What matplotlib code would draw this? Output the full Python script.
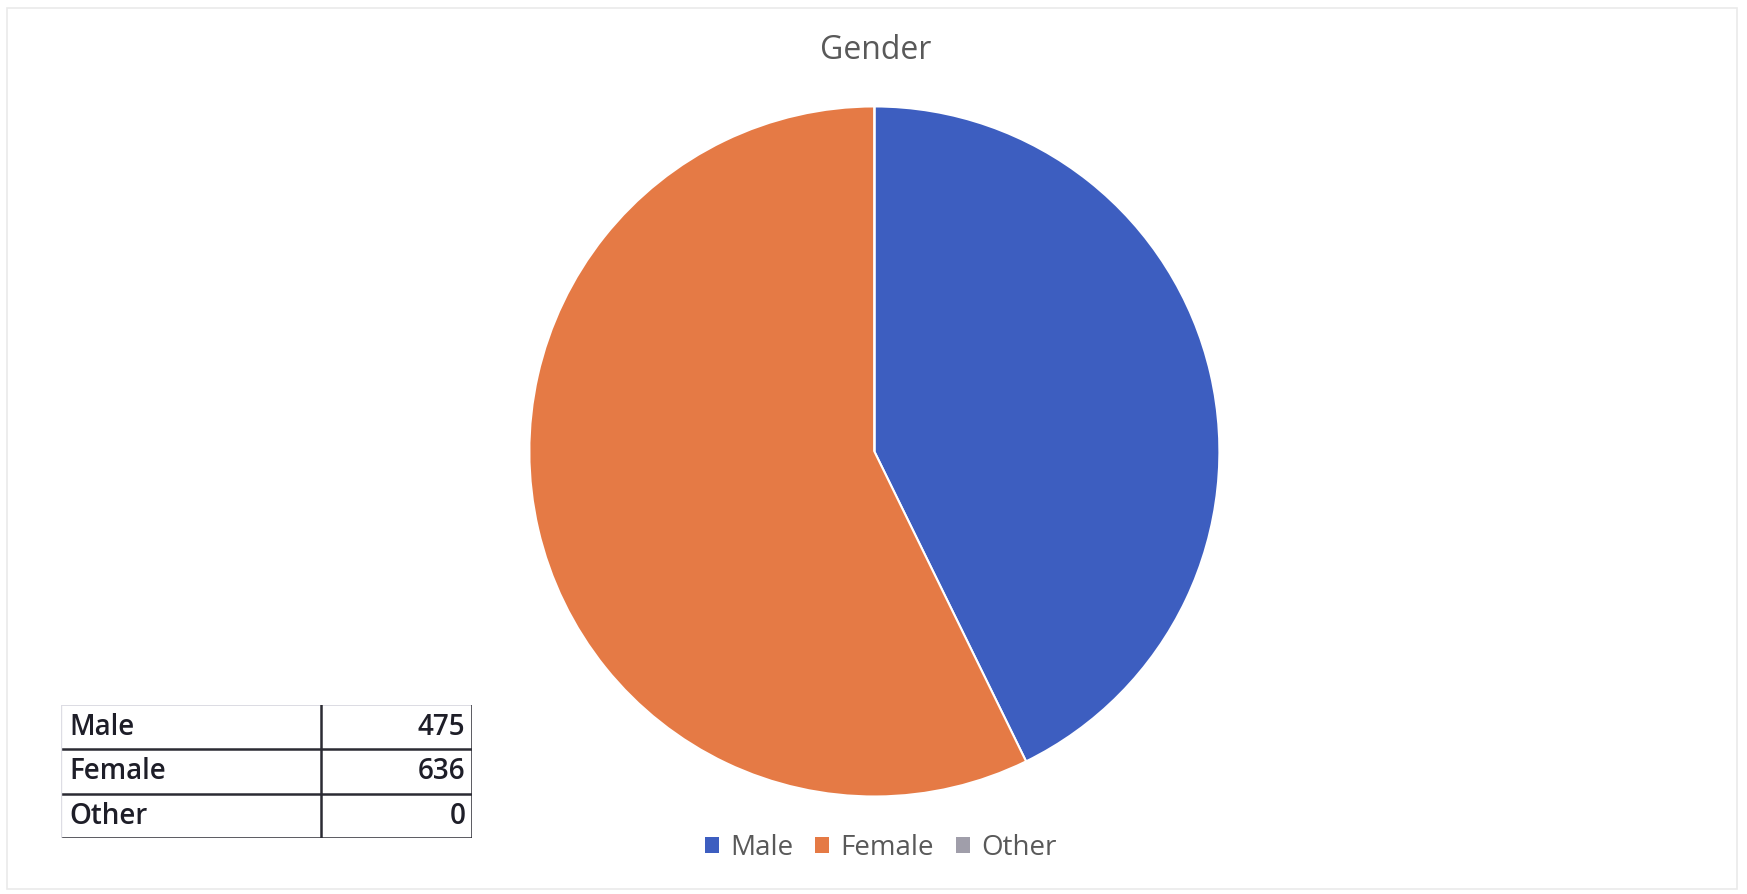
import matplotlib
matplotlib.use("Agg")
import matplotlib.pyplot as plt
from matplotlib.patches import Rectangle
from matplotlib.lines import Line2D

categories = ["Male", "Female", "Other"]
counts = [475, 636, 0]
colors = ["#3D5EC0", "#E57A45", "#A09EAA"]
title = "Gender"

plt.rcParams["font.family"] = ["Open Sans", "DejaVu Sans"]

fig = plt.figure(figsize=(17.47, 8.94), dpi=100)
fig.patch.set_facecolor("white")

# faint frame of the chart area
fig.add_artist(Rectangle((0.004, 0.006), 0.99, 0.985, transform=fig.transFigure,
                         fill=False, edgecolor="#EAEAEA", linewidth=1.2))

# pie
ax = fig.add_axes([0.303, 0.109, 0.395, 0.772])
wedges, _ = ax.pie(counts, colors=colors, startangle=90, counterclock=False,
                   wedgeprops=dict(edgecolor="white", linewidth=1.5))
ax.set_xlim(-1.0, 1.0)
ax.set_ylim(-1.0, 1.0)
ax.set_aspect("equal")

fig.text(0.501, 0.944, title, ha="center", va="center", fontsize=23, color="#595959")

handles = [Rectangle((0, 0), 1, 1, facecolor=c, edgecolor="none") for c in colors]
fig.legend(handles, categories, loc="center", bbox_to_anchor=(0.504, 0.052), ncol=3,
           frameon=False, fontsize=20, labelcolor="#595959", handlelength=0.5,
           handleheight=0.5, handletextpad=0.4, columnspacing=0.8)

# data table in the lower left corner
tax = fig.add_axes([0.035, 0.0623, 0.235, 0.149])
tax.set_xlim(0, 1)
tax.set_ylim(0, len(categories))
tax.axis("off")
split = 0.634
dark = "#2B2B33"
for i, (name, val) in enumerate(zip(categories, counts)):
    y = len(categories) - i - 0.5
    tax.text(0.02, y, name, ha="left", va="center", fontsize=20, fontweight="semibold",
             color="#1E1E28")
    tax.text(0.985, y, str(val), ha="right", va="center", fontsize=20,
             fontweight="semibold", color="#1E1E28")
    tax.add_line(Line2D([0, 1], [y - 0.5, y - 0.5], color=dark, linewidth=1.8))
tax.add_line(Line2D([0, 1], [len(categories), len(categories)], color="#D6D6DE", linewidth=1.2))
tax.add_line(Line2D([0, 0], [0, len(categories)], color="#DDDDE4", linewidth=1.0))
tax.add_line(Line2D([split, split], [0, len(categories)], color=dark, linewidth=1.8))
tax.add_line(Line2D([1, 1], [0, len(categories)], color=dark, linewidth=1.8))

fig.savefig("out.png", dpi=100, facecolor="white")
